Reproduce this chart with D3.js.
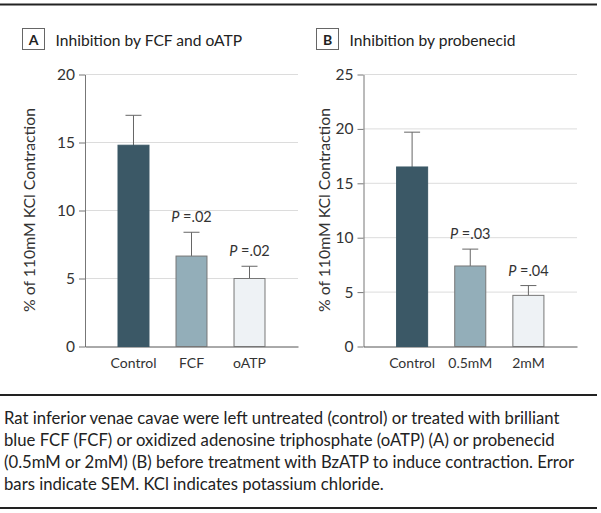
<!DOCTYPE html>
<html><head><meta charset="utf-8">
<script src="https://cdn.jsdelivr.net/npm/d3@7"></script>
<style>
body{margin:0;background:#fff;}
svg{display:block;font-family:Lato, "Liberation Sans", sans-serif;}
</style></head>
<body><svg id="c" width="601" height="513"></svg>
<script>
// Panel A data
const catsA = ["Control", "FCF", "oATP"];
const valsA = [14.8, 6.65, 5.0];
const errA  = [2.2, 1.75, 0.9];
const pA    = [null, ".02", ".02"];
const ticksA = [0, 5, 10, 15, 20];
// Panel B data
const catsB = ["Control", "0.5mM", "2mM"];
const valsB = [16.5, 7.4, 4.7];
const errB  = [3.2, 1.55, 0.9];
const pB    = [null, ".03", ".04"];
const ticksB = [0, 5, 10, 15, 20, 25];
const colors = ["#3b5866", "#93aeb9", "#eef2f5"];
const caption = [
 "Rat inferior venae cavae were left untreated (control) or treated with brilliant",
 "blue FCF (FCF) or oxidized adenosine triphosphate (oATP) (A) or probenecid",
 "(0.5mM or 2mM) (B) before treatment with BzATP to induce contraction. Error",
 "bars indicate SEM. KCl indicates potassium chloride."
];

const svg = d3.select("#c");
// top rule
svg.append("line").attr("x1",0).attr("x2",597).attr("y1",4.5).attr("y2",4.5).attr("stroke","#222").attr("stroke-width",2);

function panel(o){
  const g = svg.append("g");
  const y = d3.scaleLinear().domain([0, o.max]).range([346.5, 74.5]);
  const x = d3.scaleBand().domain(o.cats).range([o.x0, o.x1]).paddingInner(0.466).paddingOuter(0.569);
  // label box
  g.append("rect").attr("x", o.bx).attr("y",28.5).attr("width",22).attr("height",21)
    .attr("fill","#fff").attr("stroke","#666").attr("stroke-width",1);
  g.append("text").attr("x", o.bx+11).attr("y",44.5).attr("text-anchor","middle")
    .attr("font-weight","bold").attr("font-size",14).attr("fill","#222").text(o.letter);
  g.append("text").attr("x", o.bx+33).attr("y",46).attr("font-size",15.6).attr("fill","#222").text(o.title);
  // grid
  g.append("g").selectAll("line").data(o.ticks.filter(d=>d>0)).join("line")
    .attr("x1",o.x0).attr("x2",o.x1).attr("y1",d=>y(d)).attr("y2",d=>y(d))
    .attr("stroke","#dcdcdc").attr("stroke-width",1);
  // y axis
  const ya = g.append("g").attr("transform",`translate(${o.x0},0)`)
    .call(d3.axisLeft(y).tickValues(o.ticks).tickSize(6).tickPadding(4).tickSizeOuter(0));
  ya.select(".domain").attr("stroke","#777");
  ya.selectAll(".tick line").attr("stroke","#777");
  ya.selectAll(".tick text").attr("font-size",15.5).attr("fill","#333").attr("font-family","Lato, sans-serif");
  // x axis
  const xa = g.append("g").attr("transform",`translate(0,${y(0)})`)
    .call(d3.axisBottom(x).tickSize(0).tickPadding(12).tickSizeOuter(0));
  xa.select(".domain").attr("stroke","#555");
  xa.selectAll(".tick text").attr("font-size",14).attr("fill","#333").attr("font-family","Lato, sans-serif");
  // error bars
  const cw = 16;
  o.cats.forEach((c,i)=>{
    const cx = x(c)+x.bandwidth()/2;
    g.append("line").attr("x1",cx).attr("x2",cx).attr("y1",y(o.vals[i])+6).attr("y2",y(o.vals[i]+o.err[i])).attr("stroke","#666");
    g.append("line").attr("x1",cx-cw/2).attr("x2",cx+cw/2).attr("y1",y(o.vals[i]+o.err[i])).attr("y2",y(o.vals[i]+o.err[i])).attr("stroke","#666");
  });
  // bars
  g.append("g").selectAll("rect").data(o.cats).join("rect")
    .attr("x",d=>x(d)).attr("width",x.bandwidth())
    .attr("y",(d,i)=>y(o.vals[i])).attr("height",(d,i)=>y(0)-y(o.vals[i]))
    .attr("fill",(d,i)=>colors[i]).attr("stroke",(d,i)=>i===0?"#3b5866":"#777").attr("stroke-width",1);
  // P labels
  o.cats.forEach((c,i)=>{
    if(!o.p[i]) return;
    const cx = x(c)+x.bandwidth()/2;
    const t = g.append("text").attr("x",cx).attr("y",y(o.vals[i]+o.err[i])-10)
      .attr("text-anchor","middle").attr("font-size",14.5).attr("fill","#333");
    t.append("tspan").attr("font-style","italic").text("P");
    t.append("tspan").text(" =" + o.p[i]);
  });
  // y label
  g.append("text").attr("transform",`translate(${o.ylx},210) rotate(-90)`).attr("text-anchor","middle")
    .attr("dominant-baseline","central").attr("font-size",15.8).attr("fill","#333").text("% of 110mM KCl Contraction");
}
panel({cats:catsA, vals:valsA, err:errA, p:pA, ticks:ticksA, max:20, x0:85, x1:298, bx:22.5, letter:"A", title:"Inhibition by FCF and oATP", ylx:28});
panel({cats:catsB, vals:valsB, err:errB, p:pB, ticks:ticksB, max:25, x0:363.5, x1:577, bx:316.5, letter:"B", title:"Inhibition by probenecid", ylx:323});

// caption
svg.append("line").attr("x1",0).attr("x2",597).attr("y1",395).attr("y2",395).attr("stroke","#222").attr("stroke-width",2);
svg.append("g").selectAll("text").data(caption).join("text")
  .attr("x",4).attr("y",(d,i)=>424+i*22).attr("font-size",16.7).attr("fill","#222").text(d=>d);
svg.append("line").attr("x1",0).attr("x2",597).attr("y1",508).attr("y2",508).attr("stroke","#222").attr("stroke-width",2);
</script></body></html>
